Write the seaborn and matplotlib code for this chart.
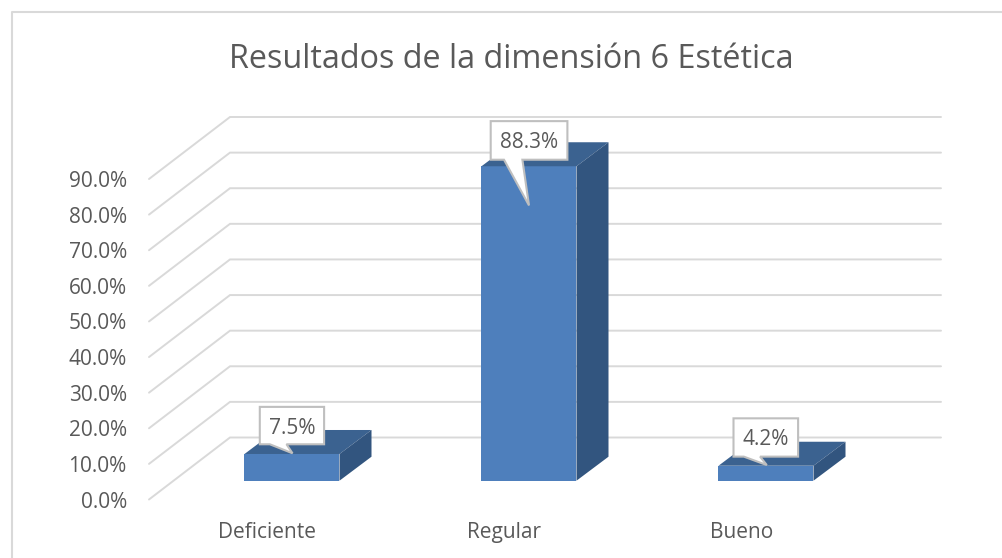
import matplotlib
matplotlib.use("Agg")
import matplotlib.pyplot as plt
from matplotlib.lines import Line2D
from matplotlib.patches import Polygon
from matplotlib.transforms import ScaledTranslation, IdentityTransform
import seaborn as sns

categories = ["Deficiente", "Regular", "Bueno"]
values = [7.5, 88.3, 4.2]
value_labels = ["7.5%", "88.3%", "4.2%"]
y_ticks = [0, 10, 20, 30, 40, 50, 60, 70, 80, 90]
y_tick_labels = [f"{v:.1f}%" for v in y_ticks]
title = "Resultados de la dimensión 6 Estética"

# callout geometry in pixels, relative to the tip: left, right, top, bottom, tail-left, tail-right
callouts = [
    (-32.7, 31.6, 46.4, 9.0, -22.7, -6.0),
    (-38.3, 38.4, 84.3, 45.7, -25.0, -6.6),
    (-33.3, 31.3, 46.7, 8.4, -23.0, -6.7),
]
# how far below the bar top each tip sits, in value units
tip_drop = [-0.2, 11.0, -0.2]
tip_shift_px = [0.5, 0.0, 0.8]

W, H = 1003, 558
BLUE, TOP, SIDE = "#4E7FBC", "#3B6290", "#32557F"
GRID, TEXT, FRAME = "#D9D9D9", "#595959", "#D9D9D9"

sns.set_theme(style="white")
plt.rcParams["font.family"] = ["Open Sans", "DejaVu Sans"]

fig = plt.figure(figsize=(W / 100, H / 100), dpi=100, facecolor="white")


def axes_px(left, right, top, bottom):
    return fig.add_axes([left / W, 1 - bottom / H, (right - left) / W, (bottom - top) / H])


front = axes_px(149, 860, 179, 499.5)
bars = axes_px(173.5, 884.5, 160.2, 480.7)
for a in (front, bars):
    a.set_xlim(-0.5, 2.5)
    a.set_ylim(0, 90)
    a.patch.set_alpha(0)
    sns.despine(ax=a, left=True, bottom=True)

px_x = 711 / 3
px_y = 320.5 / 90
wall_dx, wall_dy = 81 / px_x, 62 / px_y
bar_dx, bar_dy = 32 / px_x, 24 / px_y
bar_width = 95 / px_x

# walls / gridlines
for v in y_ticks:
    front.plot([-0.5, -0.5 + wall_dx, 2.5 + wall_dx], [v, v + wall_dy, v + wall_dy],
               color=GRID, lw=1.4, clip_on=False, solid_joinstyle="miter", zorder=1)
front.set_xticks(range(3), categories)
front.set_yticks(y_ticks, y_tick_labels)
front.tick_params(axis="y", length=0, pad=16, labelsize=15, labelcolor=TEXT)
front.tick_params(axis="x", length=0, pad=16, labelsize=15, labelcolor=TEXT)

# bars
sns.barplot(x=categories, y=values, color=BLUE, saturation=1, width=bar_width, linewidth=0,
            ax=bars, zorder=3)
bars.set_xlim(-0.5, 2.5)
bars.set_ylim(0, 90)
bars.set_xticks([])
bars.set_yticks([])
bars.set_xlabel("")
bars.set_ylabel("")
for i, v in enumerate(values):
    l, r = i - bar_width / 2, i + bar_width / 2
    bars.add_patch(Polygon([(l, v), (r, v), (r + bar_dx, v + bar_dy), (l + bar_dx, v + bar_dy)],
                           fc=TOP, ec="none", clip_on=False, zorder=3))
    bars.add_patch(Polygon([(r, 0), (r + bar_dx, bar_dy), (r + bar_dx, v + bar_dy), (r, v)],
                           fc=SIDE, ec="none", clip_on=False, zorder=3))

# callouts, anchored on the data
for i, v in enumerate(values):
    left, right, top, bottom, t1, t2 = callouts[i]
    tip = bars.transData.transform((i, v - tip_drop[i]))
    off = ScaledTranslation(tip[0] + tip_shift_px[i], tip[1], IdentityTransform())
    verts = [(left, top), (right, top), (right, bottom), (t2, bottom), (0, 0), (t1, bottom), (left, bottom)]
    bars.add_patch(Polygon(verts, closed=True, fc="white", ec="#BFBFBF", lw=1.5, transform=off,
                           clip_on=False, zorder=5, joinstyle="miter"))
    bars.text((left + right) / 2, (top + bottom) / 2, value_labels[i], transform=off, ha="center",
              va="center_baseline", fontsize=15, color=TEXT, zorder=6, clip_on=False)

fig.text(511 / W, 1 - 59 / H, title, ha="center", va="center", fontsize=23.3, color=TEXT)

# chart frame: left and top edges are visible, the rest is cropped
fig.add_artist(Line2D([12 / W, 12 / W, 1], [0, 1 - 12 / H, 1 - 12 / H], color=FRAME, lw=1.5))

fig.savefig("out.png", dpi=100, facecolor="white")
